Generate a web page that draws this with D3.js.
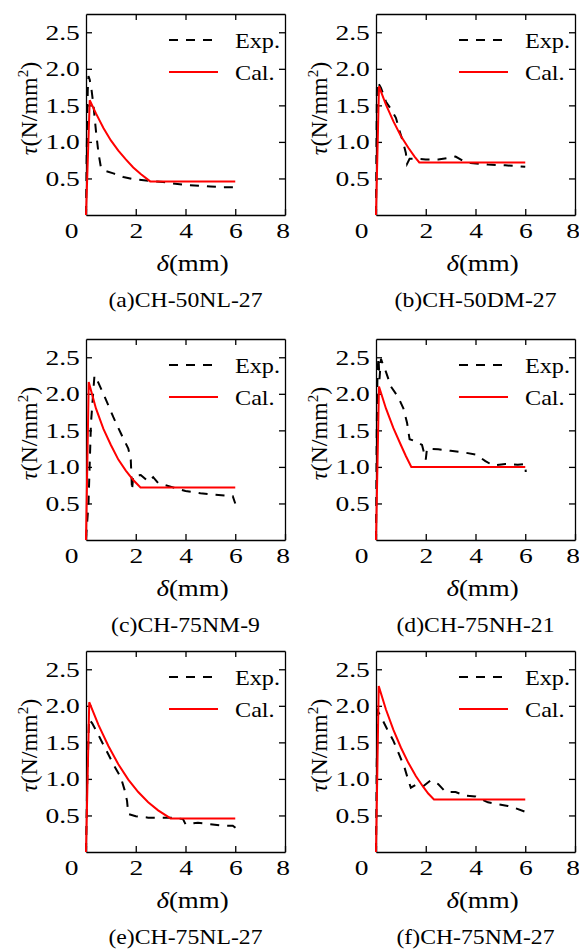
<!DOCTYPE html>
<html>
<head>
<meta charset="utf-8">
<script src="https://cdn.jsdelivr.net/npm/d3@7"></script>
<style>
  body { margin: 0; background: #fff; }
  text { font-family: "Liberation Serif", "Times New Roman", serif; fill: #000; }
</style>
</head>
<body>
<script>

// slip curves, [delta (mm), tau (N/mm2)]
var expA = [[0,0],[0.03,0.9],[0.07,1.7],[0.1,1.9],[0.15,1.85],[0.22,1.72],[0.3,1.5],[0.4,1.15],[0.5,0.85],[0.6,0.65],[0.8,0.6],[1.1,0.57],[1.5,0.52],[1.9,0.49],[2.5,0.47],[3.1,0.45],[4.0,0.41],[5.0,0.39],[5.5,0.38],[6.0,0.38]];
var calA = [[0,0],[0.15,1.57],[0.4,1.39],[0.7,1.19],[1.0,1.02],[1.3,0.88],[1.6,0.76],[1.9,0.65],[2.2,0.56],[2.58,0.46],[6,0.46]];

var expB = [[0,0],[0.02,1.0],[0.04,1.82],[0.1,1.8],[0.2,1.74],[0.4,1.55],[0.6,1.45],[0.8,1.33],[0.95,1.15],[1.1,0.98],[1.2,0.85],[1.25,0.7],[1.35,0.77],[1.6,0.77],[2.0,0.76],[2.5,0.76],[2.9,0.78],[3.2,0.8],[3.5,0.74],[3.8,0.71],[4.5,0.69],[5.2,0.68],[6.0,0.66]];
var calB = [[0,0],[0.12,1.76],[0.4,1.51],[0.7,1.28],[1.0,1.08],[1.3,0.92],[1.55,0.8],[1.74,0.72],[6,0.72]];

var expC = [[0,0.02],[0.1,0.5],[0.2,1.6],[0.34,2.25],[0.5,2.15],[0.8,1.92],[1.1,1.68],[1.4,1.46],[1.7,1.25],[1.8,1.1],[1.85,0.68],[1.9,0.88],[2.2,0.89],[2.5,0.8],[2.7,0.86],[2.9,0.78],[3.5,0.72],[4.0,0.67],[4.6,0.64],[5.2,0.62],[5.9,0.6],[6.0,0.5]];
var calC = [[0,0],[0.11,2.16],[0.4,1.8],[0.7,1.52],[1.0,1.3],[1.3,1.1],[1.6,0.95],[1.9,0.82],[2.19,0.72],[6,0.72]];

var expD = [[0,0],[0.03,1.5],[0.06,2.3],[0.1,2.5],[0.14,2.2],[0.2,2.48],[0.3,2.38],[0.4,2.3],[0.6,2.1],[0.9,1.95],[1.1,1.8],[1.25,1.6],[1.35,1.38],[1.6,1.35],[1.85,1.3],[2.0,1.1],[2.05,1.25],[2.5,1.24],[3.0,1.22],[3.5,1.2],[4.0,1.17],[4.4,1.08],[4.7,1.02],[5.2,1.04],[5.7,1.03],[6.0,1.04],[6.02,0.93]];
var calD = [[0,0],[0.12,2.1],[0.4,1.8],[0.7,1.53],[1.0,1.3],[1.2,1.15],[1.42,1.0],[6,1.0]];

var expE = [[0,0],[0.05,1.0],[0.12,1.82],[0.25,1.76],[0.5,1.6],[0.8,1.4],[1.1,1.2],[1.4,1.02],[1.55,0.85],[1.65,0.7],[1.7,0.52],[2.0,0.49],[2.5,0.47],[3.0,0.47],[3.5,0.47],[3.9,0.45],[4.0,0.38],[4.5,0.4],[5.0,0.38],[5.5,0.36],[5.9,0.36],[6.05,0.32]];
var calE = [[0,0],[0.13,2.05],[0.5,1.74],[0.9,1.45],[1.3,1.2],[1.7,0.99],[2.1,0.82],[2.5,0.68],[2.9,0.57],[3.4,0.46],[6,0.46]];

var expF = [[0,0],[0.03,1.2],[0.07,1.93],[0.2,1.85],[0.45,1.68],[0.7,1.52],[0.95,1.32],[1.15,1.15],[1.3,0.98],[1.4,0.88],[1.6,0.92],[1.9,0.9],[2.2,0.98],[2.5,0.93],[2.8,0.82],[3.2,0.82],[3.6,0.77],[4.0,0.76],[4.5,0.68],[4.8,0.66],[5.3,0.63],[5.6,0.6],[6.0,0.55]];
var calF = [[0,0],[0.11,2.27],[0.4,1.95],[0.7,1.67],[1.0,1.43],[1.3,1.22],[1.6,1.04],[1.9,0.89],[2.1,0.8],[2.33,0.72],[6,0.72]];

var captions = ["(a)CH-50NL-27", "(b)CH-50DM-27", "(c)CH-75NM-9", "(d)CH-75NH-21", "(e)CH-75NL-27", "(f)CH-75NM-27"];
var expSeries = [expA, expB, expC, expD, expE, expF];
var calSeries = [calA, calB, calC, calD, calE, calF];

var xTicks = [0, 2, 4, 6, 8];
var yTicks = [0.5, 1.0, 1.5, 2.0, 2.5];
var legendLabels = ["Exp.", "Cal."];


window.onload = function() {

    var W = 579, H = 950,
        plotW = 199, plotH = 201,
        colX = [86, 376],
        rowY = [14, 339, 651],
        dash = "9,8",
        wide = "scale(1.25,1)";     // the figure's lettering is stretched sideways

    var svg = d3.select("body")
        .append("svg")
            .attr("width", W)
            .attr("height", H);

    var x = d3.scaleLinear().domain([0, 8]).range([0, plotW]),
        y = d3.scaleLinear().domain([0, 2.75]).range([plotH, 0]);

    var line = d3.line()
        .x(function(d) { return x(d[0]); })
        .y(function(d) { return y(d[1]); });

    captions.forEach(function(cap, i) {

        var g = svg.append("g")
            .attr("transform", "translate(" + colX[i % 2] + "," + rowY[Math.floor(i / 2)] + ")");

        // inward ticks on all four sides
        var axB = g.append("g")
            .attr("transform", "translate(0," + plotH + ")")
            .call(d3.axisBottom(x).tickValues(xTicks).tickSizeInner(-6).tickSizeOuter(0).tickPadding(7).tickFormat(d3.format("d")));
        var axL = g.append("g")
            .call(d3.axisLeft(y).tickValues(yTicks).tickSizeInner(-6).tickSizeOuter(0).tickPadding(5).tickFormat(d3.format(".1f")));
        g.append("g")
            .call(d3.axisTop(x).tickValues([2, 4, 6]).tickSizeInner(-6).tickSizeOuter(0).tickFormat(""));
        g.append("g")
            .attr("transform", "translate(" + plotW + ",0)")
            .call(d3.axisRight(y).tickValues(yTicks).tickSizeInner(-6).tickSizeOuter(0).tickFormat(""));

        g.selectAll(".domain, .tick line")
            .attr("stroke", "#000")
            .attr("stroke-width", 1.3);

        axB.selectAll("text")
            .attr("font-size", 22)
            .attr("fill", "#000")
            .attr("dx", function(d) { return d === 0 ? -12 : (d === 8 ? -2 : 0); })
            .attr("transform", wide);
        axL.selectAll("text")
            .attr("font-size", 22)
            .attr("fill", "#000")
            .attr("transform", wide);

        // curves
        g.append("path")
            .datum(expSeries[i])
            .attr("d", line)
            .attr("fill", "none")
            .attr("stroke", "#000")
            .attr("stroke-width", 2)
            .attr("stroke-dasharray", dash);

        g.append("path")
            .datum(calSeries[i])
            .attr("d", line)
            .attr("fill", "none")
            .attr("stroke", "#ff0000")
            .attr("stroke-width", 2);

        // legend
        var lg = g.append("g");
        legendLabels.forEach(function(lab, k) {
            var ly = 26 + k * 32;
            lg.append("line")
                .attr("x1", 83).attr("x2", 132)
                .attr("y1", ly).attr("y2", ly)
                .attr("stroke", k === 0 ? "#000" : "#ff0000")
                .attr("stroke-width", 2)
                .attr("stroke-dasharray", k === 0 ? dash : null);
            lg.append("text")
                .attr("transform", "translate(149," + ly + ") scale(1.1,1)")
                .attr("dy", "0.35em")
                .attr("font-size", 22)
                .text(lab);
        });

        // axis titles
        var xt = g.append("text")
            .attr("transform", "translate(" + (plotW / 2 + 7) + "," + (plotH + 56) + ") scale(1.12,1)")
            .attr("text-anchor", "middle")
            .attr("font-size", 24);
        xt.append("tspan").attr("font-style", "italic").text("δ");
        xt.append("tspan").text("(mm)");

        var yt = g.append("text")
            .attr("transform", "translate(-49," + (plotH / 2 - 6) + ") rotate(-90)")
            .attr("text-anchor", "middle")
            .attr("font-size", 24);
        yt.append("tspan").attr("font-style", "italic").text("τ");
        yt.append("tspan").text("(N/mm");
        yt.append("tspan").attr("font-size", 15).attr("dy", -9).text("2");
        yt.append("tspan").attr("dy", 9).text(")");

        // caption
        g.append("text")
            .attr("transform", "translate(" + (plotW / 2) + ",293) scale(1.13,1)")
            .attr("text-anchor", "middle")
            .attr("font-size", 21)
            .text(cap);
    });
};

</script>
</body>
</html>
